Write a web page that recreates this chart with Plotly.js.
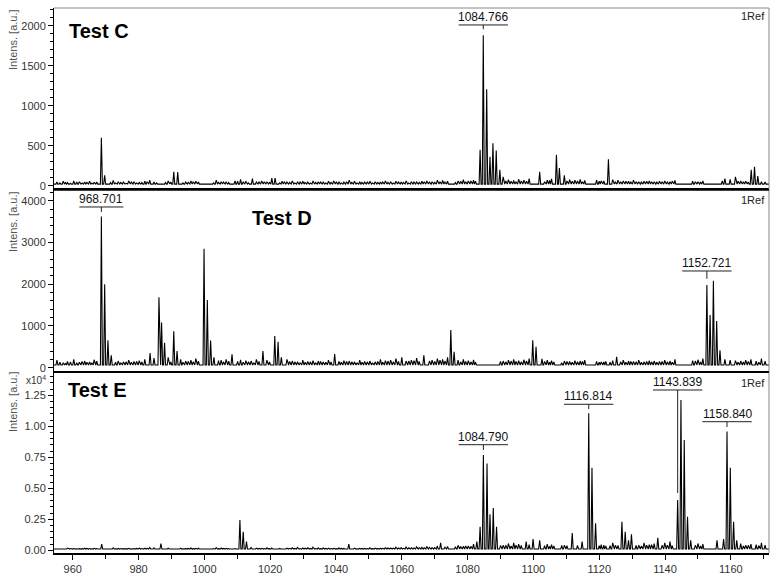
<!DOCTYPE html>
<html>
<head>
<meta charset="utf-8">
<script src="https://cdn.plot.ly/plotly-3.0.1.min.js"></script>
<style>html,body{margin:0;padding:0;background:#fff}#chart{width:779px;height:582px}</style>
</head>
<body>
<div id="chart"></div>
<script>
// ---------- DATA (m/z, intensity) ----------
const mzC  = [968.7, 969.7, 990.7, 991.9, 1014.6, 1021.5, 1083.8, 1084.766, 1085.8, 1086.8, 1087.7, 1088.7, 1089.8, 1101.9, 1107.0, 1107.9, 1122.8, 1166.2, 1167.2, 1168.2];
const intC = [600, 130, 175, 170, 90, 95, 450, 1880, 1205, 360, 530, 440, 200, 175, 385, 220, 330, 200, 235, 120];

const mzD  = [968.701, 969.7, 970.7, 971.7, 983.5, 986.2, 987.0, 987.9, 990.7, 991.7, 999.9, 1000.9, 1001.9, 1002.9, 1008.4, 1017.8, 1021.4, 1022.4, 1023.4, 1039.6, 1060.0, 1066.7, 1074.9, 1075.9, 1099.8, 1100.8, 1125.3, 1152.721, 1153.7, 1154.7, 1155.7, 1156.7];
const intD = [3620, 2000, 660, 300, 350, 1690, 1080, 600, 870, 400, 2850, 1620, 650, 250, 320, 400, 760, 620, 250, 330, 250, 300, 900, 380, 660, 500, 260, 1980, 1260, 2085, 1120, 420];

const mzE  = [968.8, 986.8, 1010.8, 1011.8, 1012.8, 1043.9, 1071.8, 1082.8, 1083.8, 1084.790, 1085.9, 1086.8, 1087.8, 1088.8, 1097.8, 1099.9, 1101.9, 1111.8, 1114.8, 1116.814, 1117.8, 1118.9, 1126.9, 1127.9, 1128.9, 1129.8, 1137.8, 1143.839, 1144.84, 1145.84, 1146.84, 1147.8, 1155.8, 1157.8, 1158.840, 1159.84, 1160.84, 1161.8];
const intE = [500, 550, 2450, 1500, 700, 500, 600, 700, 1900, 7680, 7000, 2900, 3400, 1900, 700, 900, 800, 1400, 700, 11050, 6660, 2180, 2300, 1500, 800, 1300, 1000, 4050, 12120, 8900, 2700, 800, 800, 900, 9570, 6660, 2300, 800];

// small baseline peaks (read roughly from the noise envelope)
const noiseMz = [955.2, 957.1, 958.4, 960.3, 962.0, 963.6, 965.1, 966.5, 972.3, 973.8,
  975.4, 977.0, 978.6, 980.2, 981.9, 983.4, 984.7, 989.0, 992.8, 994.3,
  995.9, 997.4, 1003.6, 1005.1, 1006.6, 1009.3, 1011.0, 1012.6, 1014.2, 1015.8,
  1017.4, 1019.0, 1020.5, 1023.6, 1025.1, 1026.7, 1028.3, 1029.9, 1031.4, 1033.0,
  1034.6, 1036.1, 1037.7, 1039.3, 1040.9, 1042.4, 1044.0, 1045.6, 1047.2, 1048.7,
  1050.3, 1051.9, 1053.5, 1055.0, 1056.6, 1058.2, 1059.8, 1061.3, 1062.9, 1064.5,
  1066.1, 1067.6, 1069.2, 1070.8, 1072.4, 1073.9, 1077.1, 1078.7, 1080.2, 1081.8,
  1090.8, 1092.4, 1094.0, 1095.5, 1097.1, 1098.7, 1102.6, 1104.2, 1105.5, 1109.4,
  1111.0, 1112.6, 1114.2, 1115.6, 1119.2, 1120.6, 1124.1, 1125.7, 1127.3, 1128.9,
  1130.4, 1132.0, 1133.6, 1135.2, 1136.7, 1138.3, 1139.9, 1141.5, 1143.0, 1148.4,
  1150.0, 1151.5, 1158.2, 1159.8, 1161.4, 1163.0, 1164.5, 1166.1, 1167.7, 1169.3];
const noiseC = [45, 55, 40, 60, 50, 45, 55, 40, 65, 50,
  45, 60, 50, 40, 55, 70, 45, 60, 50, 45,
  60, 55, 70, 50, 45, 60, 80, 55, 50, 45,
  60, 50, 95, 55, 45, 60, 50, 55, 45, 60,
  50, 45, 55, 60, 50, 45, 70, 55, 50, 45,
  55, 50, 45, 60, 50, 55, 45, 60, 50, 45,
  55, 60, 50, 70, 65, 55, 60, 75, 60, 70,
  110, 75, 65, 80, 70, 90, 95, 70, 85, 130,
  75, 70, 80, 65, 70, 60, 75, 70, 60, 55,
  70, 50, 55, 60, 50, 55, 60, 50, 65, 55,
  50, 60, 90, 80, 110, 60, 55, 70, 60, 50];
const noiseD = [180, 120, 150, 200, 130, 160, 140, 190, 220, 160,
  140, 180, 150, 170, 200, 190, 230, 250, 200, 160,
  180, 220, 240, 180, 200, 260, 190, 170, 160, 200,
  150, 180, 260, 170, 200, 160, 140, 180, 150, 170,
  160, 140, 180, 200, 150, 170, 160, 140, 180, 150,
  160, 140, 200, 170, 180, 220, 200, 160, 180, 230,
  250, 200, 180, 220, 200, 250, 180, 200, 170, 190,
  160, 180, 200, 170, 190, 220, 210, 180, 170, 160,
  150, 170, 160, 180, 150, 140, 170, 200, 180, 160,
  150, 180, 140, 170, 160, 150, 180, 160, 200, 170,
  190, 220, 200, 180, 170, 160, 180, 200, 160, 220];
const noiseE = [150, 120, 180, 140, 130, 170, 140, 160, 200, 150,
  130, 160, 140, 180, 170, 230, 200, 160, 170, 150,
  180, 160, 220, 180, 160, 140, 200, 300, 220, 170,
  160, 200, 180, 150, 170, 200, 230, 180, 200, 250,
  200, 180, 170, 160, 200, 150, 180, 170, 160, 150,
  200, 180, 170, 200, 180, 250, 220, 260, 200, 280,
  240, 300, 220, 350, 280, 300, 400, 320, 350, 500,
  400, 550, 600, 500, 700, 450, 650, 500, 450, 400,
  500, 650, 600, 400, 500, 450, 600, 400, 650, 450,
  500, 400, 600, 450, 550, 500, 600, 700, 500, 650,
  550, 500, 600, 450, 500, 550, 400, 500, 450, 600];

// second, lower layer of baseline peaks
const noiseMz2 = [956.1, 957.8, 959.3, 961.2, 962.8, 964.3, 965.8, 967.3, 971.5, 973.0,
  974.6, 976.2, 977.8, 979.4, 981.0, 982.6, 985.5, 988.2, 989.8, 993.5,
  995.1, 996.6, 998.2, 1002.8, 1004.3, 1005.8, 1007.4, 1010.1, 1011.8, 1013.4,
  1015.0, 1016.6, 1018.2, 1019.8, 1022.9, 1024.3, 1025.9, 1027.5, 1029.1, 1030.6,
  1032.2, 1033.8, 1035.3, 1036.9, 1038.5, 1040.1, 1041.6, 1043.2, 1044.8, 1046.4,
  1047.9, 1049.5, 1051.1, 1052.7, 1054.2, 1055.8, 1057.4, 1059.0, 1060.5, 1062.1,
  1063.7, 1065.3, 1066.8, 1068.4, 1070.0, 1071.6, 1073.1, 1076.3, 1077.9, 1079.4,
  1081.0, 1082.4, 1090.0, 1091.6, 1093.2, 1094.7, 1096.3, 1097.9, 1103.4, 1104.9,
  1106.2, 1108.6, 1110.2, 1111.8, 1113.4, 1114.9, 1120.0, 1121.4, 1122.0, 1123.3,
  1124.9, 1126.5, 1128.1, 1129.6, 1131.2, 1132.8, 1134.4, 1135.9, 1137.5, 1139.1,
  1140.7, 1142.2, 1149.2, 1150.8, 1157.4, 1162.2, 1163.8, 1165.3, 1168.5, 1170.4];
const noiseC2 = [35, 40, 30, 45, 35, 40, 30, 45, 40, 35, 40, 30, 45, 35, 40, 50, 35, 40, 45, 35,
  40, 50, 45, 35, 40, 45, 40, 55, 45, 35, 40, 45, 50, 40, 35, 45, 40, 35, 45, 40,
  35, 40, 45, 35, 40, 45, 35, 50, 40, 35, 40, 45, 35, 40, 45, 40, 35, 45, 40, 35,
  45, 40, 50, 45, 40, 50, 45, 40, 55, 50, 60, 55, 50, 60, 55, 50, 60, 55, 50, 65,
  55, 50, 60, 55, 60, 50, 55, 60, 50, 55, 45, 50, 55, 45, 50, 45, 55, 50, 45, 50,
  45, 55, 50, 45, 60, 55, 50, 45, 55, 45];
const noiseD2 = [130, 110, 140, 120, 150, 130, 120, 160, 150, 130, 120, 140, 130, 150, 140, 160, 170, 150, 140, 130,
  150, 140, 160, 150, 170, 140, 160, 150, 130, 140, 120, 150, 130, 140, 160, 130, 150, 140, 120, 130,
  140, 120, 150, 130, 140, 120, 130, 150, 140, 120, 130, 140, 120, 150, 130, 160, 140, 150, 130, 160,
  170, 150, 140, 160, 150, 180, 160, 150, 140, 150, 140, 130, 150, 140, 160, 150, 140, 160, 150, 130,
  140, 120, 150, 130, 140, 150, 130, 140, 150, 130, 120, 140, 130, 150, 140, 130, 150, 140, 130, 150,
  140, 130, 160, 140, 150, 130, 140, 150, 130, 160];
const noiseE2 = [130, 110, 140, 120, 130, 150, 120, 140, 130, 120, 140, 130, 120, 150, 140, 160, 150, 130, 140, 120,
  150, 130, 160, 140, 130, 150, 140, 200, 160, 140, 130, 150, 140, 130, 150, 140, 160, 150, 140, 170,
  150, 140, 130, 150, 140, 130, 150, 140, 130, 120, 150, 140, 130, 150, 160, 180, 170, 190, 160, 200,
  180, 220, 200, 240, 220, 260, 250, 280, 300, 350, 320, 300, 380, 400, 350, 420, 400, 350, 380, 320,
  350, 400, 380, 320, 400, 350, 380, 420, 350, 380, 400, 350, 420, 380, 400, 350, 420, 450, 380, 400,
  420, 380, 400, 350, 420, 380, 350, 400, 380, 420];

const labelsC = [{mz: 1084.766, text: '1084.766'}];
const labelsD = [{mz: 968.701, text: '968.701'}, {mz: 1152.721, text: '1152.721'}];
const labelsE = [{mz: 1084.790, text: '1084.790'}, {mz: 1116.814, text: '1116.814'}, {mz: 1143.839, text: '1143.839'}, {mz: 1158.840, text: '1158.840'}];

const eTickVals = [0, 2500, 5000, 7500, 10000, 12500];
const eTickText = ['0.00', '0.25', '0.50', '0.75', '1.00', '1.25'];

// ---------- BUILD ----------
const XR = [954.3, 1171.6];
const HW = 0.3;
function stick(mz, inten, base, nzLists, nhLists, xa, ya) {
  const pk = mz.map((m, i) => ({m: m, h: inten[i]}));
  nzLists.forEach((nz, k) => {
    const nh = nhLists[k];
    nz.forEach((m, i) => {
      if (!mz.some(p => Math.abs(p - m) < 0.9)) pk.push({m: m, h: nh[i]});
    });
  });
  pk.sort((a, b) => a.m - b.m);
  const xs = [XR[0]], ys = [base];
  pk.forEach(p => { xs.push(p.m - HW, p.m, p.m + HW); ys.push(base, p.h, base); });
  xs.push(XR[1]); ys.push(base);
  return {x: xs, y: ys, xaxis: xa, yaxis: ya, type: 'scatter', mode: 'lines',
          line: {color: '#000', width: 1.1}, hoverinfo: 'skip', showlegend: false};
}

const traces = [
  stick(mzC, intC, 20, [noiseMz, noiseMz2], [noiseC, noiseC2], 'x', 'y'),
  stick(mzD, intD, 65, [noiseMz, noiseMz2], [noiseD, noiseD2], 'x2', 'y2'),
  stick(mzE, intE, 100, [noiseMz, noiseMz2], [noiseE, noiseE2], 'x3', 'y3')
];

const FONT = 'Liberation Sans, Arial, sans-serif';
const shapes = [], annotations = [];
function peakLabel(lb, xa, ya, barY, tipY, halfW) {
  shapes.push({type: 'line', xref: xa, yref: ya, x0: lb.mz - halfW, x1: lb.mz + halfW, y0: barY, y1: barY, line: {color: '#222', width: 1}});
  shapes.push({type: 'line', xref: xa, yref: ya, x0: lb.mz, x1: lb.mz, y0: barY, y1: tipY, line: {color: '#222', width: 1}});
  annotations.push({xref: xa, yref: ya, x: lb.mz, y: barY, yanchor: 'bottom', xanchor: 'center', yshift: -1,
    text: lb.text, showarrow: false, font: {family: FONT, size: 12, color: '#111'}});
}
peakLabel(labelsC[0], 'x', 'y', 2009, 1955, 7.5);
peakLabel(labelsD[0], 'x2', 'y2', 3849, 3730, 6.7);
peakLabel(labelsD[1], 'x2', 'y2', 2316, 2130, 7.5);
peakLabel(labelsE[0], 'x3', 'y3', 8516, 8090, 7.5);
peakLabel(labelsE[1], 'x3', 'y3', 11774, 11395, 7.5);
peakLabel(labelsE[2], 'x3', 'y3', 12927, 4620, 7.5);
peakLabel(labelsE[3], 'x3', 'y3', 10371, 9944, 7.5);

const doms = [[0.6692, 1.0], [0.3339, 0.6661], [0.0, 0.3316]];
const titles = ['Test C', 'Test D', 'Test E'];
const titlePos = [[67, 31], [250, 218], [66, 390]]; // pixel positions
const W = 779, H = 582, ML = 54, MR = 10, MT = 8, MB = 29;
const pw = W - ML - MR, ph = H - MT - MB;
const px = x => (x - ML) / pw, py = y => (H - MB - y) / ph;
titles.forEach((t, i) => {
  annotations.push({xref: 'paper', yref: 'paper', x: px(titlePos[i][0]), y: py(titlePos[i][1]), xanchor: 'left', yanchor: 'middle',
    text: '<b>' + t + '</b>', showarrow: false, font: {family: FONT, size: 20, color: '#000'}});
});
[16, 200, 383].forEach(y => {
  annotations.push({xref: 'paper', yref: 'paper', x: px(767), y: py(y), xanchor: 'right', yanchor: 'middle',
    text: '1Ref', showarrow: false, font: {family: FONT, size: 11, color: '#222'}});
});
[40, 222, 402].forEach(y => {
  annotations.push({xref: 'paper', yref: 'paper', x: px(13), y: py(y), xanchor: 'center', yanchor: 'middle', textangle: -90,
    text: 'Intens. [a.u.]', showarrow: false, font: {family: FONT, size: 11, color: '#555'}});
});
annotations.push({xref: 'paper', yref: 'paper', x: px(36), y: py(380), xanchor: 'center', yanchor: 'middle',
  text: 'x10<sup>4</sup>', showarrow: false, font: {family: FONT, size: 10, color: '#333'}});

// frame lines
shapes.push({type: 'line', xref: 'paper', yref: 'paper', x0: 0, x1: 1, y0: 1, y1: 1, line: {color: '#888', width: 1}});
shapes.push({type: 'line', xref: 'paper', yref: 'paper', x0: 1, x1: 1, y0: 0, y1: 1, line: {color: '#888', width: 1}});
shapes.push({type: 'line', xref: 'paper', yref: 'paper', x0: 0, x1: 1, y0: doms[1][1], y1: doms[1][1], line: {color: '#000', width: 1.5}});
shapes.push({type: 'line', xref: 'paper', yref: 'paper', x0: 0, x1: 1, y0: doms[2][1], y1: doms[2][1], line: {color: '#000', width: 1.5}});

const tickFont = {family: FONT, size: 11, color: '#333'};
function xax(dom, anchor, show) {
  return {domain: [0, 1], anchor: anchor, range: XR, showgrid: false, zeroline: false,
    showline: true, linecolor: '#000', linewidth: 2,
    ticks: show ? 'outside' : '', ticklen: 5, tickcolor: '#000', dtick: 20, tick0: 960,
    showticklabels: show, tickfont: tickFont,
    minor: show ? {dtick: 10, ticks: 'outside', ticklen: 4, tickcolor: '#000'} : undefined};
}
function yax(dom, anchor, range, dtick, mdtick, extra) {
  return Object.assign({domain: dom, anchor: anchor, range: range, showgrid: false, zeroline: false,
    showline: true, linecolor: '#000', linewidth: 1, ticks: 'outside', ticklen: 5, tickcolor: '#000',
    dtick: dtick, tick0: 0, tickfont: tickFont,
    minor: {dtick: mdtick, tick0: 0, ticks: 'outside', ticklen: 3, tickcolor: '#000'}}, extra || {});
}

const layout = {
  width: W, height: H,
  margin: {l: ML, r: MR, t: MT, b: MB},
  paper_bgcolor: '#fff', plot_bgcolor: '#fff',
  font: {family: FONT},
  showlegend: false, hovermode: false,
  xaxis: xax(doms[0], 'y', false),
  xaxis2: xax(doms[1], 'y2', false),
  xaxis3: xax(doms[2], 'y3', true),
  yaxis: yax(doms[0], 'x', [-32.5, 2221], 500, 100),
  yaxis2: yax(doms[1], 'x2', [-79, 4256], 1000, 200),
  yaxis3: yax(doms[2], 'x3', [-218, 14355], 2500, 500, {tickmode: 'array', tickvals: eTickVals, ticktext: eTickText}),
  shapes: shapes,
  annotations: annotations
};
Plotly.newPlot('chart', traces, layout, {staticPlot: true, displayModeBar: false});
</script>
</body>
</html>
